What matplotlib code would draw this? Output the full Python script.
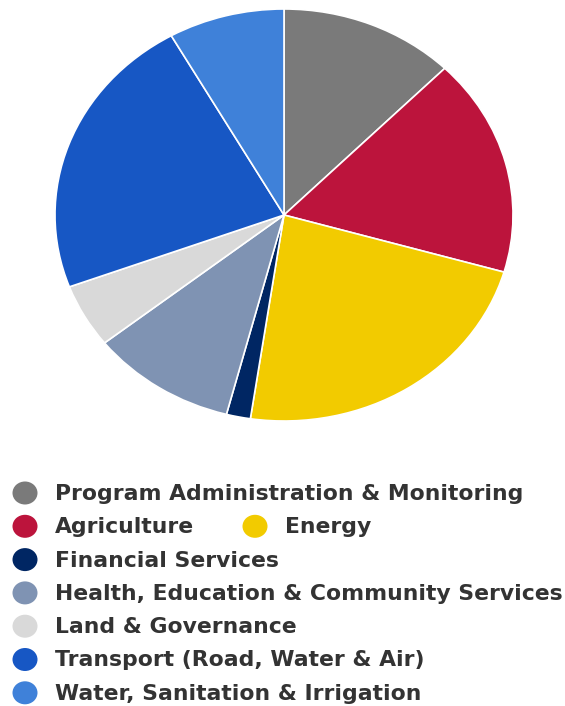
import matplotlib
matplotlib.use("Agg")
import matplotlib.pyplot as plt
from matplotlib.patches import Ellipse

categories = [
    "Program Administration & Monitoring",
    "Agriculture",
    "Energy",
    "Financial Services",
    "Health, Education & Community Services",
    "Land & Governance",
    "Transport (Road, Water & Air)",
    "Water, Sanitation & Irrigation",
]
values = [12.4, 17.1, 22.9, 1.7, 10.3, 5.0, 22.5, 8.2]
colors = ["#7a7a7a", "#bc143c", "#f2cb00", "#002663",
          "#7f93b3", "#d9d9d9", "#1757c4", "#3f81d9"]

W, H = 565, 706
fig = plt.figure(figsize=(W / 100, H / 100), dpi=100)
fig.patch.set_facecolor("white")

# pie axes (the reference pie is slightly stretched horizontally)
ax = fig.add_axes([55 / W, 1 - 421 / H, 458 / W, 412 / H])
ax.pie(values, colors=colors, startangle=90, counterclock=False,
       wedgeprops=dict(edgecolor="white", linewidth=1.2))
ax.set_aspect("auto")
ax.set_xlim(-1, 1)
ax.set_ylim(-1, 1)
ax.axis("off")

# legend drawn in pixel coordinates
lg = fig.add_axes([0, 0, 1, 1])
lg.set_xlim(0, W)
lg.set_ylim(H, 0)
lg.axis("off")

rows = [(0, 0), (1, 0), (1, 1), (2, 0), (3, 0), (4, 0), (5, 0), (6, 0)]
col_x = [25, 255]
row_y0, row_dy = 493, 33.3
for (r, c), label, col in zip(rows, categories, colors):
    y = row_y0 + r * row_dy
    x = col_x[c]
    lg.add_patch(Ellipse((x, y), 25, 23, facecolor=col, edgecolor="none"))
    lg.text(x + 30, y + 1, label, fontsize=15.75, fontweight="bold",
            family="DejaVu Sans", color="#333333", va="center", ha="left")

fig.savefig("out.png", dpi=100, facecolor="white")
